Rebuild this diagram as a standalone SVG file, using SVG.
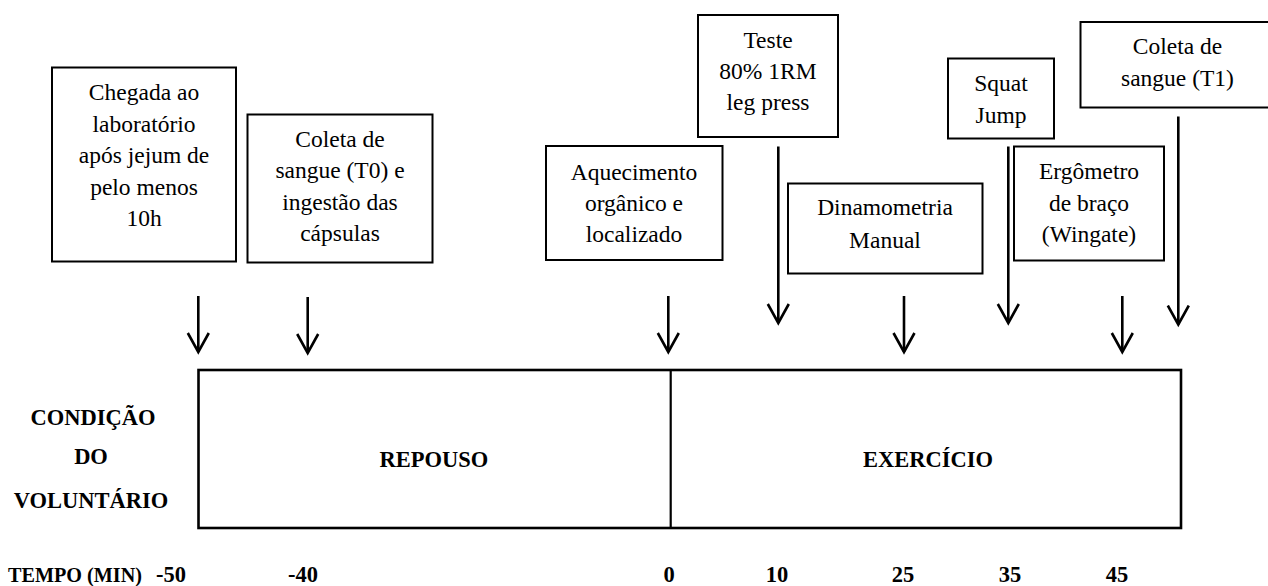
<svg xmlns="http://www.w3.org/2000/svg" width="1268" height="586" viewBox="0 0 1268 586">
<style>
.box{fill:#fff;stroke:#000;stroke-width:2}
.t{font-family:'Liberation Serif',Tinos,'Times New Roman',Times,'Noto Serif','DejaVu Serif',FreeSerif,serif;font-size:23.5px;fill:#000;text-anchor:middle}
.b{font-family:'Liberation Serif',Tinos,'Times New Roman',Times,'Noto Serif','DejaVu Serif',FreeSerif,serif;font-size:22.5px;font-weight:bold;fill:#000;text-anchor:middle}
.arr{stroke:#000;stroke-width:2.6;fill:none;marker-end:url(#ah)}
</style>
<defs>
<marker id="ah" markerUnits="userSpaceOnUse" markerWidth="24" markerHeight="26" refX="20" refY="12" orient="auto" viewBox="0 0 24 24">
<path d="M1,1.5 L20,12 L1,22.5" fill="none" stroke="#000" stroke-width="2.6"/>
</marker>
</defs>
<rect width="1268" height="586" fill="#fff"/>

<g id="n-chegada">
<rect class="box" x="52" y="67.5" width="184" height="194"/>
<text class="t" x="144" y="100">Chegada ao</text>
<text class="t" x="144" y="131.5">laboratório</text>
<text class="t" x="144" y="163">após jejum de</text>
<text class="t" x="144" y="194.5">pelo menos</text>
<text class="t" x="144" y="226">10h</text>
</g>
<g id="n-coleta-t0">
<rect class="box" x="247.5" y="114.5" width="185" height="148"/>
<text class="t" x="340" y="146.5">Coleta de</text>
<text class="t" x="340" y="178">sangue (T0) e</text>
<text class="t" x="340" y="209.5">ingestão das</text>
<text class="t" x="340" y="241">cápsulas</text>
</g>
<g id="n-aquecimento">
<rect class="box" x="546" y="146" width="176.5" height="114"/>
<text class="t" x="634" y="179.5">Aquecimento</text>
<text class="t" x="634" y="211">orgânico e</text>
<text class="t" x="634" y="242">localizado</text>
</g>
<g id="n-teste">
<rect class="box" x="698" y="15" width="140" height="122"/>
<text class="t" x="768" y="47.5">Teste</text>
<text class="t" x="768" y="79">80% 1RM</text>
<text class="t" x="768" y="110">leg press</text>
</g>
<g id="n-dinamometria">
<rect class="box" x="788" y="183.5" width="194.5" height="90"/>
<text class="t" x="885" y="215">Dinamometria</text>
<text class="t" x="885" y="248">Manual</text>
</g>
<g id="n-squat">
<rect class="box" x="948" y="58.5" width="106" height="80"/>
<text class="t" x="1001" y="91">Squat</text>
<text class="t" x="1001" y="123">Jump</text>
</g>
<g id="n-ergometro">
<rect class="box" x="1014" y="146.5" width="150" height="114"/>
<text class="t" x="1089" y="179">Ergômetro</text>
<text class="t" x="1089" y="210.5">de braço</text>
<text class="t" x="1089" y="242">(Wingate)</text>
</g>
<g id="n-coleta-t1">
<rect class="box" x="1080.5" y="22" width="195" height="85.5"/>
<text class="t" x="1177.5" y="53.5">Coleta de</text>
<text class="t" x="1177.5" y="86">sangue (T1)</text>
</g>

<g id="connectors">
<line class="arr" x1="198.3" y1="296" x2="198.3" y2="352"/>
<line class="arr" x1="307.7" y1="297" x2="307.7" y2="353"/>
<line class="arr" x1="668.3" y1="296" x2="668.3" y2="352"/>
<line class="arr" x1="778.3" y1="146.5" x2="778.3" y2="323"/>
<line class="arr" x1="904" y1="296" x2="904" y2="352"/>
<line class="arr" x1="1008.3" y1="146.5" x2="1008.3" y2="323"/>
<line class="arr" x1="1122.3" y1="296" x2="1122.3" y2="352"/>
<line class="arr" x1="1178.3" y1="116.5" x2="1178.3" y2="324.5"/>
</g>

<g id="timeline">
<rect x="198.5" y="370" width="982.5" height="158" fill="none" stroke="#000" stroke-width="2.6"/>
<line x1="670.7" y1="370" x2="670.7" y2="528" stroke="#000" stroke-width="2.2"/>
<text class="b" x="434" y="467">REPOUSO</text>
<text class="b" x="928" y="467">EXERCÍCIO</text>
</g>

<g id="labels">
<text class="b" x="93" y="425">CONDIÇÃO</text>
<text class="b" x="91" y="464">DO</text>
<text class="b" x="91" y="508">VOLUNTÁRIO</text>
<text class="b" x="8" y="582" style="text-anchor:start;font-size:21px" textLength="134" lengthAdjust="spacingAndGlyphs">TEMPO (MIN)</text>
<text class="b" x="171" y="582">-50</text>
<text class="b" x="303" y="582">-40</text>
<text class="b" x="669" y="582">0</text>
<text class="b" x="777" y="582">10</text>
<text class="b" x="903" y="582">25</text>
<text class="b" x="1010" y="582">35</text>
<text class="b" x="1117" y="582">45</text>
</g>
</svg>
